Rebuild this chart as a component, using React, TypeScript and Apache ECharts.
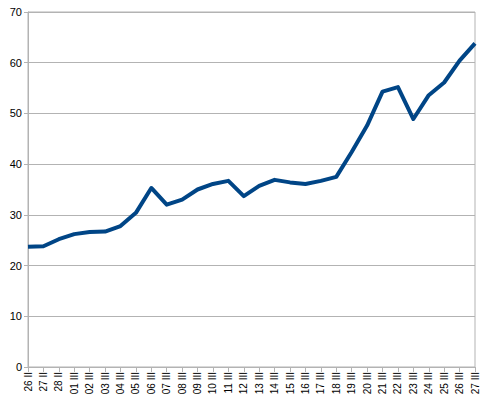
import React, { useEffect, useRef } from "react";
import * as echarts from "echarts";

const categories: string[] = [
  "26 II", "27 II", "28 II",
  "01 III", "02 III", "03 III", "04 III", "05 III", "06 III", "07 III", "08 III", "09 III",
  "10 III", "11 III", "12 III", "13 III", "14 III", "15 III", "16 III", "17 III", "18 III",
  "19 III", "20 III", "21 III", "22 III", "23 III", "24 III", "25 III", "26 III", "27 III",
];

const values: number[] = [
  23.7, 23.8, 25.2, 26.2, 26.6, 26.7, 27.8, 30.4, 35.3, 32.0,
  33.0, 35.0, 36.1, 36.7, 33.7, 35.7, 36.9, 36.4, 36.1, 36.7,
  37.5, 42.4, 47.6, 54.3, 55.2, 48.9, 53.6, 56.1, 60.4, 63.8,
];

const yMin = 0;
const yMax = 70;
const yInterval = 10;

export default function App() {
  const ref = useRef<HTMLDivElement>(null);
  useEffect(() => {
    if (!ref.current) return;
    const chart = echarts.init(ref.current, null, { renderer: "svg" });
    const grey = "#b3b3b3";
    chart.setOption({
      animation: false,
      backgroundColor: "#ffffff",
      grid: {
        left: 28,
        right: 7,
        top: 12,
        bottom: 38,
        show: true,
        borderColor: grey,
        borderWidth: 1,
        outerBoundsMode: "none",
      },
      xAxis: {
        type: "category",
        data: categories,
        boundaryGap: false,
        axisLine: { lineStyle: { color: grey, width: 1 } },
        axisTick: { show: true, interval: 0, length: 5, lineStyle: { color: grey } },
        axisLabel: {
          interval: 0,
          rotate: 90,
          fontFamily: "Liberation Sans, Arial, sans-serif",
          fontSize: 10,
          color: "#000000",
          margin: 5,
        },
        splitLine: { show: false },
      },
      yAxis: {
        type: "value",
        min: yMin,
        max: yMax,
        interval: yInterval,
        axisLine: { show: true, lineStyle: { color: grey, width: 1 } },
        axisTick: { show: true, length: 4, lineStyle: { color: grey } },
        axisLabel: {
          fontFamily: "Liberation Sans, Arial, sans-serif",
          fontSize: 11,
          color: "#000000",
          margin: 6,
        },
        splitLine: { show: true, lineStyle: { color: grey, width: 1 } },
      },
      series: [
        {
          type: "line",
          data: values,
          symbol: "none",
          lineStyle: { color: "#004586", width: 4, join: "round" },
          itemStyle: { color: "#004586" },
        },
      ],
    });
    return () => chart.dispose();
  }, []);
  return (
    <div
      ref={ref}
      style={{ position: "fixed", left: 0, top: 0, width: 482, height: 405 }}
    />
  );
}
